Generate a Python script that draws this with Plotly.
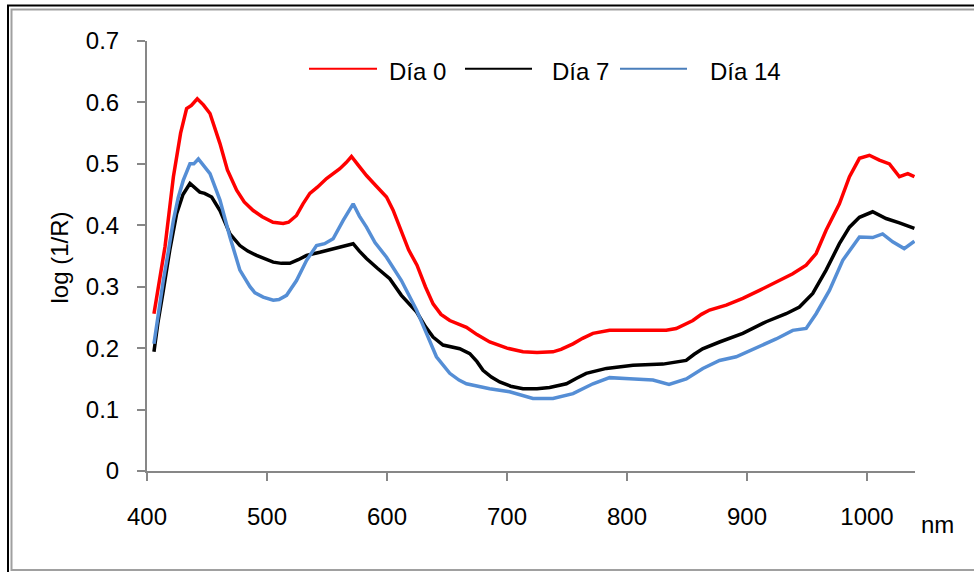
import plotly.graph_objects as go

# --- data ---
nm_d0 = [405.8, 410, 415, 422, 428, 433, 437, 441.9, 447, 452.5, 460.8, 467, 474.7, 481, 488.5, 496, 505,
         513.5, 518, 524.6, 530, 535.7, 542, 549.6, 560.7, 566, 570.4, 576, 582.9, 590, 599.6, 605, 611,
         618, 625, 632, 638.4, 645, 652.3, 666.2, 675, 685.6, 700, 713.3, 725, 738.3, 745, 755,
         763, 771.6, 785.5, 800, 815, 832.7, 841, 847, 854.9, 862, 868.8, 882.7, 896.5, 910.4, 924.3,
         938.1, 949.3, 957.6, 965.9, 977, 985.4, 993.7, 1002, 1010.3, 1018.7, 1027, 1034, 1039.5]
dia0 = [0.256, 0.31, 0.365, 0.479, 0.55, 0.59, 0.595, 0.606, 0.596, 0.582, 0.533, 0.49, 0.457, 0.438, 0.424,
        0.414, 0.405, 0.403, 0.405, 0.416, 0.435, 0.452, 0.462, 0.476, 0.492, 0.502, 0.512, 0.498, 0.481,
        0.466, 0.446, 0.425, 0.395, 0.36, 0.335, 0.3, 0.272, 0.255, 0.245, 0.234, 0.222, 0.21, 0.2, 0.194,
        0.193, 0.194, 0.198, 0.207, 0.216, 0.224, 0.229, 0.229, 0.229, 0.229, 0.232, 0.238, 0.245, 0.255,
        0.262, 0.270, 0.281, 0.294, 0.308, 0.321, 0.335, 0.354, 0.392, 0.435, 0.479, 0.509, 0.514, 0.506,
        0.500, 0.479, 0.484, 0.479]

nm_d7 = [405.8, 409, 413.6, 419, 424.7, 430, 435.8, 440, 444, 448, 453.9, 460.8, 469.1, 477.4, 484, 491.3,
         498, 505.2, 512, 519, 526, 533, 544, 552, 560.7, 566, 571.8, 577, 582.9, 592, 602.3, 612, 624.6,
         632, 638.4, 646.7, 653, 660.6, 669, 675, 680, 687, 693.9, 703, 713.3, 725, 735.5, 749.5, 758, 766,
         782.8, 805, 830, 849.3, 856, 863, 877.1, 896.5, 916, 932.6, 943.7, 954.8, 965.9, 977, 985.4,
         993.7, 1004.7, 1015.9, 1027, 1039.5]
dia7 = [0.194, 0.24, 0.294, 0.36, 0.419, 0.45, 0.468, 0.46, 0.454, 0.452, 0.446, 0.424, 0.386, 0.367, 0.358,
        0.351, 0.345, 0.340, 0.338, 0.338, 0.344, 0.351, 0.356, 0.36, 0.365, 0.367, 0.370, 0.358, 0.346,
        0.33, 0.313, 0.286, 0.259, 0.235, 0.218, 0.205, 0.202, 0.199, 0.191, 0.178, 0.164, 0.153, 0.145,
        0.138, 0.134, 0.134, 0.136, 0.142, 0.151, 0.159, 0.167, 0.172, 0.174, 0.180, 0.19, 0.199, 0.21,
        0.224, 0.243, 0.256, 0.267, 0.289, 0.327, 0.370, 0.397, 0.413, 0.422, 0.411, 0.404, 0.395]

nm_d14 = [405.8, 409, 413.6, 418, 422, 426, 430.2, 435.8, 439, 442.8, 447, 452.5, 460.8, 469.1, 477.4, 485.8,
          490, 496.8, 505.2, 510, 516.3, 524.6, 533, 541.3, 548, 555.1, 563.5, 571.8, 577, 582.9, 590, 599.6,
          612, 624.6, 632.9, 641.2, 652.3, 660, 666.2, 675, 685.6, 702.2, 712, 721.6, 738.3, 755, 771.6,
          785.5, 802.2, 821.6, 835, 849.4, 863.2, 877.1, 891, 910.4, 924.3, 938.1, 949.3, 957.6, 968.7,
          979.8, 993.7, 1004.7, 1013, 1021.4, 1031, 1039.5]
dia14 = [0.207, 0.25, 0.31, 0.36, 0.408, 0.445, 0.473, 0.50, 0.50, 0.508, 0.498, 0.484, 0.441, 0.381, 0.327,
         0.30, 0.29, 0.283, 0.278, 0.279, 0.286, 0.310, 0.343, 0.367, 0.37, 0.378, 0.408, 0.435, 0.415, 0.397,
         0.372, 0.348, 0.31, 0.262, 0.224, 0.186, 0.159, 0.148, 0.142, 0.138, 0.134, 0.129, 0.124, 0.118,
         0.118, 0.126, 0.142, 0.152, 0.150, 0.148, 0.141, 0.150, 0.167, 0.18, 0.186, 0.202, 0.215, 0.229,
         0.232, 0.256, 0.294, 0.343, 0.381, 0.38, 0.386, 0.373, 0.362, 0.374]

series_names = ["Día 0", "Día 7", "Día 14"]
line_colors = ["#FF0000", "#000000", "#558ED5"]
legend_colors = ["#FF0000", "#000000", "#4A7EBB"]

x_ticks = [400, 500, 600, 700, 800, 900, 1000]
y_ticks = [0, 0.1, 0.2, 0.3, 0.4, 0.5, 0.6, 0.7]
y_tick_labels = ["0", "0.1", "0.2", "0.3", "0.4", "0.5", "0.6", "0.7"]

FONT = "Arial, 'Liberation Sans', sans-serif"

W, H = 974, 572
ML, MR, MT, MB = 147, 59, 41, 101
PW, PH = W - ML - MR, H - MT - MB


def px(xp):
    return (xp - ML) / PW


def py(yp):
    return (H - MB - yp) / PH


fig = go.Figure()
for xs, ys, name, col in zip([nm_d0, nm_d7, nm_d14], [dia0, dia7, dia14], series_names, line_colors):
    fig.add_trace(go.Scatter(x=xs, y=ys, mode="lines", name=name,
                             line=dict(color=col, width=3.5), showlegend=False))

axis_col = "#878787"
fig.update_xaxes(range=[400, 1040], tickvals=x_ticks, ticks="outside", ticklen=8, tickwidth=2,
                 tickcolor=axis_col, showline=True, linecolor=axis_col, linewidth=2,
                 showgrid=False, zeroline=False, ticklabelstandoff=15,
                 tickfont=dict(family=FONT, size=24, color="#000"))
fig.update_yaxes(range=[0, 0.7], tickvals=y_ticks, ticktext=y_tick_labels, ticks="outside",
                 ticklen=8, tickwidth=2, tickcolor=axis_col, showline=True, linecolor=axis_col,
                 linewidth=2, showgrid=False, zeroline=False, ticklabelstandoff=13,
                 tickfont=dict(family=FONT, size=24, color="#000"))

shapes = [
    # outer black frame
    dict(type="rect", xref="paper", yref="paper", x0=px(8), x1=px(990), y0=py(590), y1=py(5.5),
         line=dict(color="#000", width=2), layer="below"),
    # inner grey frame
    dict(type="rect", xref="paper", yref="paper", x0=px(11.5), x1=px(985), y0=py(570), y1=py(9.5),
         line=dict(color="#A0A0A0", width=2), layer="below"),
]

annotations = [
    dict(text="log (1/R)", xref="paper", yref="paper", x=px(58.5), y=py(258), textangle=-90,
         showarrow=False, font=dict(family=FONT, size=24, color="#000"), xanchor="center", yanchor="middle"),
    dict(text="nm", xref="paper", yref="paper", x=px(919), y=py(524), showarrow=False,
         font=dict(family=FONT, size=24, color="#000"), xanchor="left", yanchor="middle"),
]

# manual legend
leg_line_x = [(309, 377), (465, 532), (620, 687)]
leg_text_x = [387, 550, 708]
leg_y = 68.7
for (a, b), tx, name, col in zip(leg_line_x, leg_text_x, series_names, legend_colors):
    shapes.append(dict(type="line", xref="paper", yref="paper", x0=px(a), x1=px(b), y0=py(leg_y), y1=py(leg_y),
                       line=dict(color=col, width=2)))
    annotations.append(dict(text=name, xref="paper", yref="paper", x=px(tx), y=py(71), showarrow=False,
                            xanchor="left", yanchor="middle",
                            font=dict(family=FONT, size=24, color="#000")))

fig.update_layout(width=W, height=H, margin=dict(l=ML, r=MR, t=MT, b=MB, autoexpand=False),
                  paper_bgcolor="white", plot_bgcolor="white", shapes=shapes, annotations=annotations,
                  showlegend=False)

fig.write_html("out.html", config={"displayModeBar": False},
               post_script="document.body.style.margin='0';document.body.style.overflow='hidden';")
